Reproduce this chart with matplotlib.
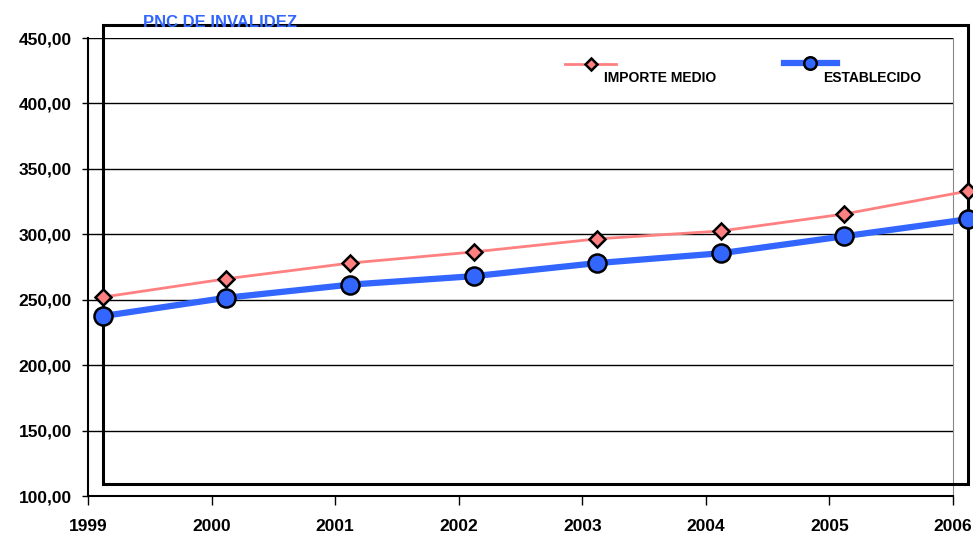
import matplotlib
matplotlib.use("Agg")
import matplotlib.pyplot as plt
from matplotlib.patches import Rectangle
from matplotlib.lines import Line2D

plt.rcParams['font.family'] = ['Liberation Sans', 'DejaVu Sans']

# data
years = [1999, 2000, 2001, 2002, 2003, 2004, 2005, 2006]
importe_medio = [252.0, 266.0, 278.0, 286.5, 296.5, 302.5, 315.5, 333.0]
establecido = [237.5, 251.5, 261.5, 268.0, 278.0, 285.5, 298.5, 311.5]
yticks = [100, 150, 200, 250, 300, 350, 400, 450]

pink = '#FF8080'
blue = '#3366FF'
shift = 0.12  # points sit a little right of the ticks

fig = plt.figure(figsize=(9.73, 5.36), dpi=100)
ax = fig.add_axes([0.0904, 0.0746, 0.889, 0.8545])

xs = [y + shift for y in years]
ax.plot(xs, importe_medio, color=pink, lw=2, marker='D', ms=8,
        mfc=pink, mec='black', mew=1.8, clip_on=False, zorder=5)
ax.plot(xs, establecido, color=blue, lw=4.5, marker='o', ms=13,
        mfc=blue, mec='black', mew=1.8, clip_on=False, zorder=6)

ax.set_xlim(1999, 2006)
ax.set_ylim(100, 450)
ax.set_yticks(yticks)
ax.set_yticklabels(['%d,00' % v for v in yticks], fontsize=12.5, fontweight='bold')
ax.set_xticks(years)
ax.set_xticklabels([str(y) for y in years], fontsize=12.5, fontweight='bold')
ax.tick_params(axis='y', length=4.5, width=1, pad=7)
ax.tick_params(axis='x', length=6.5, width=1, pad=10)
ax.grid(axis='y', color='black', lw=1)
ax.set_axisbelow(True)

ax.spines['top'].set_visible(False)
ax.spines['right'].set_color('#888888')
ax.spines['left'].set_linewidth(1.5)
ax.spines['bottom'].set_linewidth(1.5)

# plot-area box drawn over the axes
ax.add_patch(Rectangle((1999 + shift, 109), 7.0, 351, fill=False, ec='black',
                       lw=2.2, clip_on=False, zorder=4))

fig.text(0.147, 0.958, 'PNC DE INVALIDEZ', color=blue, fontsize=12,
         fontweight='bold', va='center', ha='left')

# legend
fig.add_artist(Line2D([0.581, 0.633], [0.881, 0.881], color=pink, lw=2))
fig.add_artist(Line2D([0.607], [0.881], color=pink, marker='D', ms=6,
                      mfc=pink, mec='black', mew=1.8))
fig.text(0.621, 0.855, 'IMPORTE MEDIO', fontsize=10, fontweight='bold',
         va='center', ha='left')
fig.add_artist(Line2D([0.806, 0.86], [0.883, 0.883], color=blue, lw=4.5))
fig.add_artist(Line2D([0.832], [0.883], color=blue, marker='o', ms=9,
                      mfc=blue, mec='black', mew=1.8))
fig.text(0.846, 0.855, 'ESTABLECIDO', fontsize=10, fontweight='bold',
         va='center', ha='left')

fig.savefig('out.png', dpi=100)
